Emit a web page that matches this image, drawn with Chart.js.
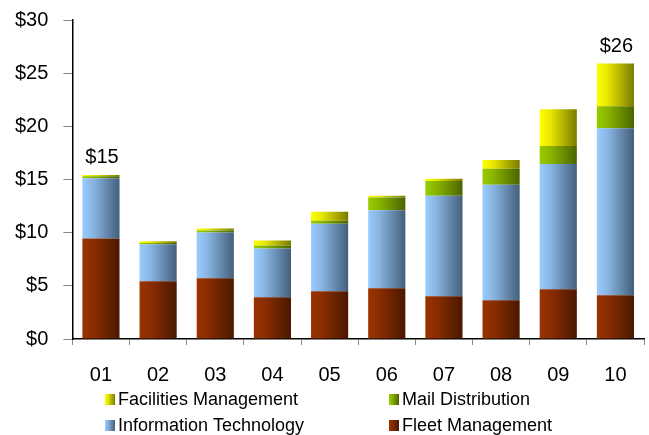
<!DOCTYPE html>
<html>
<head>
<meta charset="utf-8">
<script src="https://cdn.jsdelivr.net/npm/chart.js@4/dist/chart.umd.min.js"></script>
<style>
  html, body { margin: 0; padding: 0; background: #fff; }
  #wrap { width: 649px; height: 435px; }
</style>
</head>
<body>
<div id="wrap"><canvas id="chart" width="649" height="435"></canvas></div>
<script>
// === DATA ===

const years = ["01", "02", "03", "04", "05", "06", "07", "08", "09", "10"];

const fleetManagement = [9.45, 5.43, 5.71, 3.93, 4.49, 4.77, 4.02, 3.65, 4.68, 4.12];
const informationTechnology = [5.67, 3.49, 4.30, 4.58, 6.36, 7.33, 9.45, 10.85, 11.78, 15.71];
const mailDistribution = [0.18, 0.10, 0.20, 0.28, 0.28, 1.21, 1.40, 1.50, 1.69, 2.06];
const facilitiesManagement = [0.13, 0.17, 0.18, 0.47, 0.84, 0.16, 0.19, 0.84, 3.45, 4.01];

const totalLabels = ["$15", "", "", "", "", "", "", "", "", "$26"];

// light -> dark, left to right
const palette = {
  fleet: ["#9a3300", "#8a2d00", "#4a1800"],
  it: ["#99ccff", "#88b4e0", "#435f7c"],
  mail: ["#99cc00", "#88b400", "#4a6400"],
  facilities: ["#ffff00", "#e6e600", "#7a7a00"]
};

const FONT = "'Liberation Sans', Arial, sans-serif";

// === HELPERS ===

function makeGradient(ctx, x0, x1, stops) {
  const g = ctx.createLinearGradient(x0, 0, x1, 0);
  g.addColorStop(0, stops[0]);
  g.addColorStop(0.3, stops[1]);
  g.addColorStop(1, stops[2]);
  return g;
}

function barFill(stops) {
  return function (c) {
    const chart = c.chart;
    const x = chart.scales && chart.scales.x;
    if (!x || c.dataIndex === undefined) return stops[0];
    const center = x.getPixelForValue(c.dataIndex);
    const half = (x.width / years.length) * 0.65 / 2;
    if (!isFinite(center) || !isFinite(half) || half <= 0) return stops[0];
    return makeGradient(chart.ctx, center - half, center + half, stops);
  };
}

// === PLUGINS ===

const totalsPlugin = {
  id: "totals",
  afterDatasetsDraw(chart) {
    const ctx = chart.ctx;
    const meta = chart.getDatasetMeta(chart.data.datasets.length - 1);
    ctx.save();
    ctx.font = "20px " + FONT;
    ctx.fillStyle = "#000";
    ctx.textAlign = "center";
    ctx.textBaseline = "alphabetic";
    totalLabels.forEach((t, i) => {
      if (!t) return;
      const el = meta.data[i];
      ctx.fillText(t, el.x + 1, el.y - 12);
    });
    ctx.restore();
  }
};

const legendPlugin = {
  id: "gridLegend",
  afterDraw(chart) {
    const ctx = chart.ctx;
    const items = [
      { label: "Facilities Management", stops: palette.facilities, x: 105, y: 399 },
      { label: "Mail Distribution", stops: palette.mail, x: 389, y: 399 },
      { label: "Information Technology", stops: palette.it, x: 105, y: 425 },
      { label: "Fleet Management", stops: palette.fleet, x: 389, y: 425 }
    ];
    ctx.save();
    ctx.font = "18px " + FONT;
    ctx.textBaseline = "middle";
    items.forEach(it => {
      ctx.fillStyle = makeGradient(ctx, it.x, it.x + 10, it.stops);
      ctx.fillRect(it.x, it.y - 5, 10, 11);
      ctx.fillStyle = "#000";
      ctx.fillText(it.label, it.x + 13, it.y + 1);
    });
    ctx.restore();
  }
};

// === CHART ===

new Chart(document.getElementById("chart"), {
  type: "bar",
  data: {
    labels: years,
    datasets: [
      { label: "Fleet Management", data: fleetManagement, backgroundColor: barFill(palette.fleet) },
      { label: "Information Technology", data: informationTechnology, backgroundColor: barFill(palette.it) },
      { label: "Mail Distribution", data: mailDistribution, backgroundColor: barFill(palette.mail) },
      { label: "Facilities Management", data: facilitiesManagement, backgroundColor: barFill(palette.facilities) }
    ]
  },
  options: {
    responsive: false,
    animation: false,
    events: [],
    datasets: {
      bar: { categoryPercentage: 1, barPercentage: 0.65, borderWidth: 0 }
    },
    layout: { padding: { left: 0, right: 5, top: 0, bottom: 30 } },
    plugins: {
      legend: { display: false },
      tooltip: { enabled: false }
    },
    scales: {
      x: {
        stacked: true,
        grid: { offset: true, drawOnChartArea: false, tickLength: 6, color: "#888" },
        border: { color: "#000", width: 1.5 },
        ticks: { color: "#000", font: { family: FONT, size: 20 }, padding: 18, maxRotation: 0 }
      },
      y: {
        stacked: true,
        min: 0,
        max: 30,
        grid: { drawOnChartArea: false, tickLength: 9, color: "#888" },
        border: { color: "#000", width: 1.5 },
        ticks: {
          stepSize: 5,
          color: "#000",
          padding: 15,
          font: { family: FONT, size: 20, lineHeight: 0.5 },
          callback: v => "$" + v
        }
      }
    }
  },
  plugins: [totalsPlugin, legendPlugin]
});
</script>
</body>
</html>
